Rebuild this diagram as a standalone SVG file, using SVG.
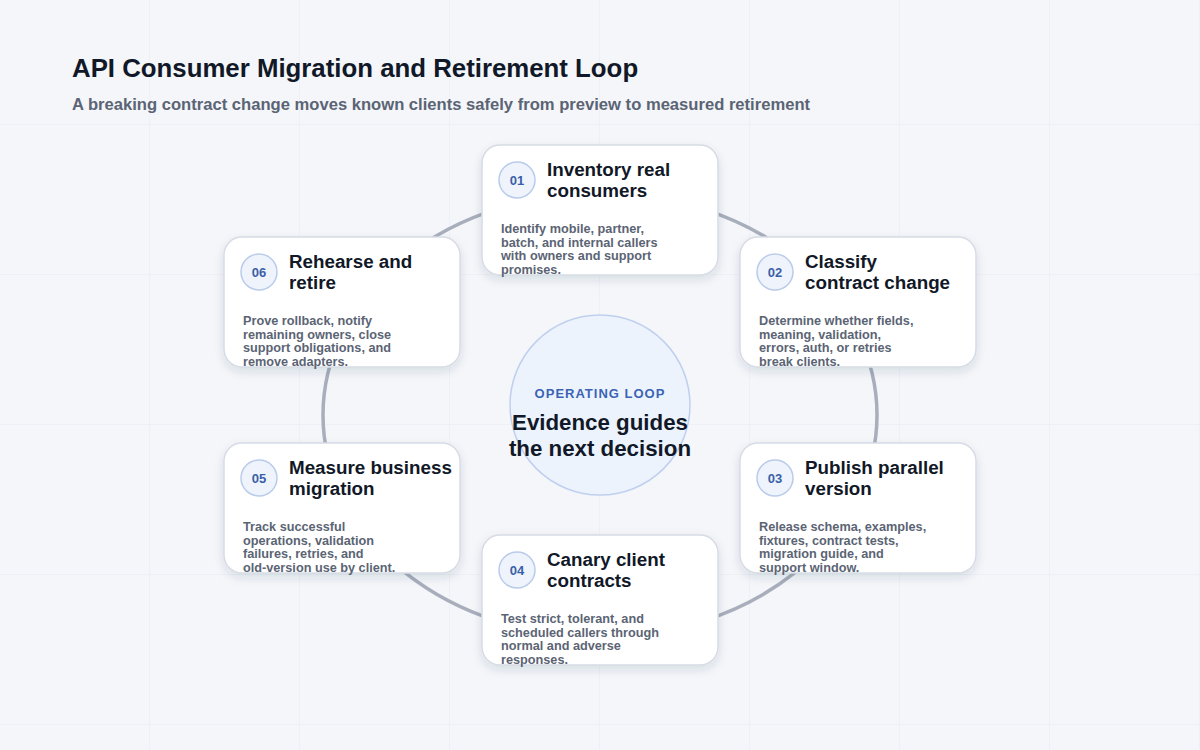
<svg xmlns="http://www.w3.org/2000/svg" width="1200" height="750" viewBox="0 0 1200 750">
<defs>
<filter id="sh" x="-20%" y="-20%" width="140%" height="150%"><feDropShadow dx="0" dy="4" stdDeviation="5" flood-color="#1e2a44" flood-opacity="0.12"/></filter>
<pattern id="grid" width="150" height="150" patternUnits="userSpaceOnUse" x="0" y="-25"><path d="M150 0V150M0 150H150" fill="none" stroke="#e6eaf2" stroke-width="1"/></pattern>
</defs>
<style>
text{font-family:"Liberation Sans",Arial,sans-serif}
.card{fill:#fff;stroke:#d6dbe5;stroke-width:1.5}
.badge{fill:#eef3fc;stroke:#b9cbeb;stroke-width:1.5}
.num{font-size:13px;font-weight:700;fill:#3b5fa8;text-anchor:middle}
.ti{font-size:18.8px;font-weight:700;fill:#111827}
.de{font-size:12.7px;font-weight:700;fill:#5b6474}
</style>
<rect width="1200" height="750" fill="#f4f6fa"/>
<rect width="1200" height="750" fill="url(#grid)"/>
<text x="72" y="77" font-size="25.8" font-weight="700" fill="#111827">API Consumer Migration and Retirement Loop</text>
<text x="72" y="110" font-size="16.6" font-weight="700" fill="#5b6474">A breaking contract change moves known clients safely from preview to measured retirement</text>
<g id="connectors"><ellipse cx="600" cy="415" rx="277" ry="222" fill="none" stroke="#a8aebb" stroke-width="3.5"/></g>
<g id="center"><circle cx="600" cy="405" r="90" fill="#edf3fd" stroke="#bfd0ee" stroke-width="1.5"/>
<text x="600" y="398" text-anchor="middle" font-size="13" font-weight="700" fill="#3b63b5" letter-spacing="1">OPERATING LOOP</text>
<text x="600" y="430" text-anchor="middle" font-size="22.3" font-weight="700" fill="#111827">Evidence guides</text>
<text x="600" y="456" text-anchor="middle" font-size="22.3" font-weight="700" fill="#111827">the next decision</text></g>
<g id="n01" transform="translate(482,145)"><rect class="card" width="236" height="130" rx="18" filter="url(#sh)"/><circle class="badge" cx="35" cy="35" r="18"/><text class="num" x="35" y="40">01</text><text class="ti" x="65" y="31">Inventory real</text><text class="ti" x="65" y="52">consumers</text><text class="de" x="19" y="88">Identify mobile, partner,</text><text class="de" x="19" y="101.5">batch, and internal callers</text><text class="de" x="19" y="115">with owners and support</text><text class="de" x="19" y="128.5">promises.</text></g>
<g id="n02" transform="translate(740,237)"><rect class="card" width="236" height="130" rx="18" filter="url(#sh)"/><circle class="badge" cx="35" cy="35" r="18"/><text class="num" x="35" y="40">02</text><text class="ti" x="65" y="31">Classify</text><text class="ti" x="65" y="52">contract change</text><text class="de" x="19" y="88">Determine whether fields,</text><text class="de" x="19" y="101.5">meaning, validation,</text><text class="de" x="19" y="115">errors, auth, or retries</text><text class="de" x="19" y="128.5">break clients.</text></g>
<g id="n03" transform="translate(740,443)"><rect class="card" width="236" height="130" rx="18" filter="url(#sh)"/><circle class="badge" cx="35" cy="35" r="18"/><text class="num" x="35" y="40">03</text><text class="ti" x="65" y="31">Publish parallel</text><text class="ti" x="65" y="52">version</text><text class="de" x="19" y="88">Release schema, examples,</text><text class="de" x="19" y="101.5">fixtures, contract tests,</text><text class="de" x="19" y="115">migration guide, and</text><text class="de" x="19" y="128.5">support window.</text></g>
<g id="n04" transform="translate(482,535)"><rect class="card" width="236" height="130" rx="18" filter="url(#sh)"/><circle class="badge" cx="35" cy="35" r="18"/><text class="num" x="35" y="40">04</text><text class="ti" x="65" y="31">Canary client</text><text class="ti" x="65" y="52">contracts</text><text class="de" x="19" y="88">Test strict, tolerant, and</text><text class="de" x="19" y="101.5">scheduled callers through</text><text class="de" x="19" y="115">normal and adverse</text><text class="de" x="19" y="128.5">responses.</text></g>
<g id="n05" transform="translate(224,443)"><rect class="card" width="236" height="130" rx="18" filter="url(#sh)"/><circle class="badge" cx="35" cy="35" r="18"/><text class="num" x="35" y="40">05</text><text class="ti" x="65" y="31">Measure business</text><text class="ti" x="65" y="52">migration</text><text class="de" x="19" y="88">Track successful</text><text class="de" x="19" y="101.5">operations, validation</text><text class="de" x="19" y="115">failures, retries, and</text><text class="de" x="19" y="128.5">old-version use by client.</text></g>
<g id="n06" transform="translate(224,237)"><rect class="card" width="236" height="130" rx="18" filter="url(#sh)"/><circle class="badge" cx="35" cy="35" r="18"/><text class="num" x="35" y="40">06</text><text class="ti" x="65" y="31">Rehearse and</text><text class="ti" x="65" y="52">retire</text><text class="de" x="19" y="88">Prove rollback, notify</text><text class="de" x="19" y="101.5">remaining owners, close</text><text class="de" x="19" y="115">support obligations, and</text><text class="de" x="19" y="128.5">remove adapters.</text></g>
</svg>
